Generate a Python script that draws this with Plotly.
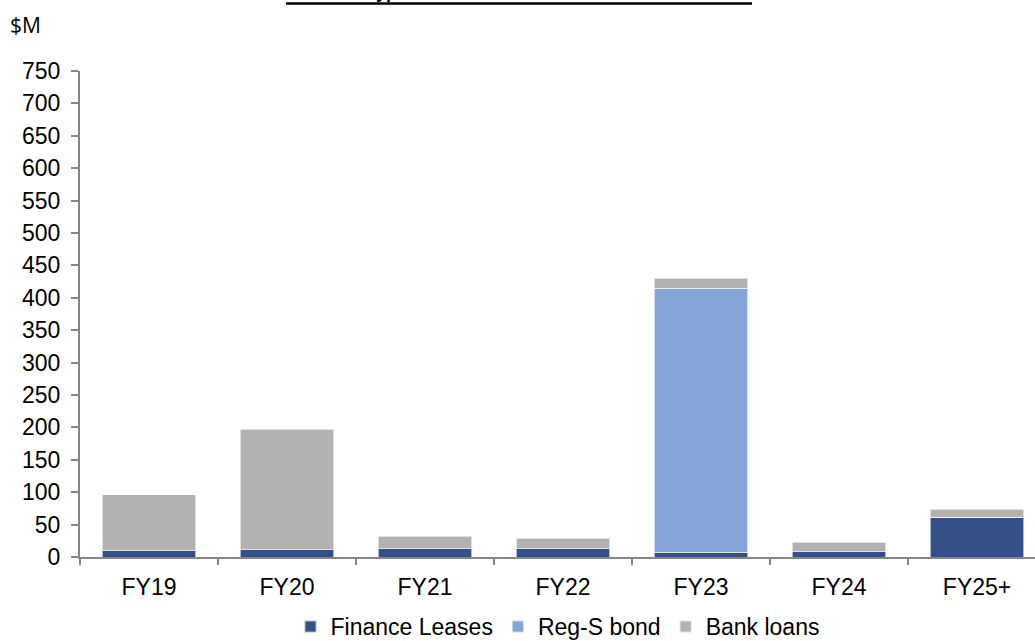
import plotly.graph_objects as go

# Debt maturity profile, $M, by financing type
years = ["FY19", "FY20", "FY21", "FY22", "FY23", "FY24", "FY25+"]
finance_leases = [10, 11, 13, 13, 7, 8, 61]
reg_s_bond = [0, 0, 0, 0, 408, 0, 0]
bank_loans = [86, 186, 19, 16, 15, 15, 13]

y_ticks = list(range(0, 751, 50))

FONT = "Liberation Sans, Arial, Helvetica, sans-serif"
FONT_SIZE = 23
AXIS_GREY = "#868686"

W, H = 1035, 641
M_L, M_R, M_T, M_B = 80, 0, 71, 84
plot_w = W - M_L - M_R
plot_h = H - M_T - M_B


def px_to_paper_x(px):
    return (px - M_L) / plot_w


def px_to_paper_y(py):
    return (H - M_B - py) / plot_h


series = [
    ("Finance Leases", finance_leases, "#345087"),
    ("Reg-S bond", reg_s_bond, "#85A5D9"),
    ("Bank loans", bank_loans, "#B2B2B2"),
]

fig = go.Figure()
for name, vals, color in series:
    fig.add_trace(go.Bar(
        x=years, y=vals, name=name,
        marker=dict(color=color, line=dict(color="rgba(255,255,255,0.6)", width=1)),
        hoverinfo="x+y+name",
    ))

fig.update_layout(
    width=W, height=H,
    margin=dict(l=M_L, r=M_R, t=M_T, b=M_B, pad=0, autoexpand=False),
    paper_bgcolor="white", plot_bgcolor="white",
    barmode="stack", bargap=0.32,
    font=dict(family=FONT, size=FONT_SIZE, color="black"),
    showlegend=True,
    legend=dict(
        orientation="h", x=0.5, xanchor="center",
        y=px_to_paper_y(605), yanchor="top",
        font=dict(family=FONT, size=FONT_SIZE, color="black"),
        traceorder="normal", itemsizing="constant",
        bgcolor="rgba(0,0,0,0)",
    ),
    xaxis=dict(
        type="category", categoryorder="array", categoryarray=years,
        range=[-0.5, 6.42],
        showline=True, linecolor=AXIS_GREY, linewidth=2,
        ticks="outside", tickson="boundaries", ticklen=6, tickwidth=2, tickcolor=AXIS_GREY,
        showgrid=False, zeroline=False,
        ticklabelstandoff=8,
        tickfont=dict(family=FONT, size=FONT_SIZE, color="black"),
    ),
    yaxis=dict(
        range=[0, 750], tickvals=y_ticks, ticktext=[str(v) for v in y_ticks],
        showline=True, linecolor=AXIS_GREY, linewidth=2,
        ticks="outside", ticklen=7, tickwidth=2, tickcolor=AXIS_GREY,
        showgrid=False, zeroline=False,
        ticklabelstandoff=6,
        tickfont=dict(family=FONT, size=FONT_SIZE, color="black"),
    ),
)

# Unit label above the value axis
fig.add_annotation(
    text="$M", xref="paper", yref="paper",
    x=px_to_paper_x(8), y=px_to_paper_y(9),
    xanchor="left", yanchor="top", showarrow=False,
    font=dict(family="Open Sans, sans-serif", size=21, color="black"),
)

# Heading sitting above the page top, with its rule
fig.add_annotation(
    text="<b>Facilities type and maturities</b>", xref="paper", yref="paper",
    x=px_to_paper_x(286), y=px_to_paper_y(4),
    xanchor="left", yanchor="bottom", showarrow=False,
    font=dict(family=FONT, size=18, color="black"),
)
fig.add_shape(
    type="line", xref="paper", yref="paper",
    x0=px_to_paper_x(286), x1=px_to_paper_x(752),
    y0=px_to_paper_y(3.5), y1=px_to_paper_y(3.5),
    line=dict(color="black", width=2.5),
)

fig.write_html("out.html")
